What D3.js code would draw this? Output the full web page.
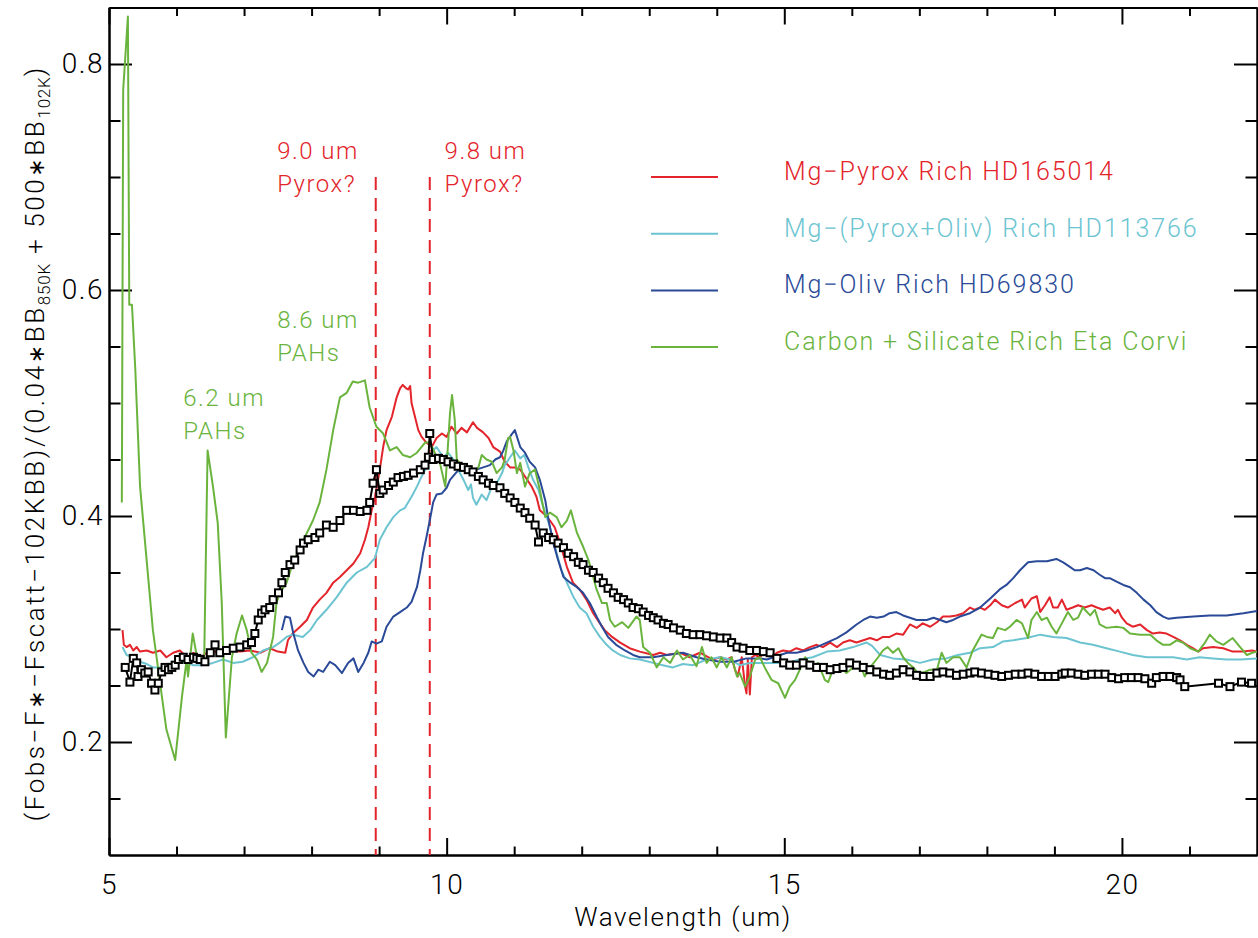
<!DOCTYPE html>
<html lang="en">
<head>
<meta charset="UTF-8">
<title>Silicate spectra</title>
<style>
  body { margin: 0; background: #fff; }
  svg text { font-family: Roboto, "Liberation Sans", sans-serif; font-weight: 300; }
  .ast { font-family: "DejaVu Sans", sans-serif; font-weight: 400; }
</style>
</head>
<body>
<svg id="chart" width="1258" height="938"></svg>
<script src="https://d3js.org/d3.v7.min.js"></script>
<script>
// spectra: [wavelength (um), normalised flux]
const pyroxRich = [[5.20,0.299],[5.22,0.286],[5.26,0.284],[5.31,0.286],[5.36,0.281],[5.41,0.284],[5.46,0.280],[5.56,0.281],[5.65,0.279],[5.76,0.281],[5.85,0.275],[5.95,0.279],[6.05,0.281],[6.15,0.275],[6.25,0.279],[6.35,0.275],[6.50,0.281],[6.64,0.279],[6.79,0.281],[6.94,0.280],[7.09,0.281],[7.24,0.279],[7.38,0.283],[7.50,0.280],[7.61,0.279],[7.65,0.290],[7.72,0.296],[7.83,0.302],[7.93,0.308],[8.02,0.319],[8.12,0.326],[8.22,0.332],[8.32,0.341],[8.42,0.346],[8.52,0.352],[8.62,0.358],[8.72,0.367],[8.79,0.379],[8.84,0.390],[8.89,0.405],[8.94,0.417],[9.01,0.441],[9.06,0.461],[9.11,0.476],[9.19,0.488],[9.26,0.505],[9.31,0.513],[9.35,0.516],[9.40,0.513],[9.43,0.512],[9.46,0.515],[9.48,0.500],[9.53,0.488],[9.58,0.476],[9.63,0.470],[9.70,0.465],[9.78,0.461],[9.85,0.469],[9.93,0.473],[10.00,0.470],[10.07,0.479],[10.15,0.473],[10.22,0.478],[10.30,0.474],[10.39,0.483],[10.45,0.478],[10.54,0.474],[10.62,0.469],[10.69,0.461],[10.79,0.457],[10.86,0.448],[10.94,0.443],[11.01,0.443],[11.09,0.441],[11.16,0.435],[11.26,0.426],[11.33,0.417],[11.38,0.405],[11.46,0.401],[11.53,0.396],[11.60,0.390],[11.68,0.376],[11.78,0.355],[11.87,0.341],[11.97,0.335],[12.07,0.326],[12.17,0.314],[12.27,0.305],[12.34,0.299],[12.45,0.293],[12.57,0.288],[12.71,0.283],[12.86,0.280],[13.06,0.277],[13.16,0.279],[13.26,0.277],[13.46,0.279],[13.60,0.275],[13.75,0.279],[13.94,0.273],[14.05,0.275],[14.15,0.273],[14.22,0.275],[14.27,0.264],[14.31,0.258],[14.37,0.275],[14.42,0.249],[14.44,0.243],[14.46,0.273],[14.49,0.242],[14.52,0.275],[14.57,0.277],[14.64,0.275],[14.71,0.280],[14.81,0.275],[14.89,0.279],[14.98,0.281],[15.08,0.280],[15.18,0.283],[15.28,0.281],[15.38,0.284],[15.48,0.286],[15.57,0.284],[15.68,0.288],[15.78,0.284],[15.87,0.288],[15.97,0.290],[16.07,0.288],[16.17,0.290],[16.27,0.292],[16.37,0.290],[16.46,0.293],[16.56,0.293],[16.66,0.296],[16.76,0.295],[16.86,0.304],[16.96,0.301],[17.05,0.305],[17.16,0.302],[17.26,0.306],[17.35,0.311],[17.45,0.311],[17.55,0.312],[17.65,0.314],[17.75,0.319],[17.82,0.317],[17.90,0.319],[17.97,0.317],[18.05,0.321],[18.12,0.326],[18.22,0.321],[18.31,0.319],[18.42,0.323],[18.52,0.326],[18.56,0.319],[18.66,0.327],[18.74,0.329],[18.79,0.315],[18.86,0.321],[18.93,0.328],[18.98,0.319],[19.05,0.319],[19.11,0.326],[19.18,0.317],[19.27,0.319],[19.35,0.321],[19.45,0.319],[19.55,0.321],[19.63,0.319],[19.72,0.317],[19.82,0.319],[19.90,0.314],[19.94,0.317],[20.00,0.310],[20.07,0.305],[20.16,0.302],[20.27,0.304],[20.37,0.299],[20.46,0.296],[20.56,0.297],[20.66,0.296],[20.76,0.293],[20.86,0.290],[20.96,0.286],[21.05,0.283],[21.13,0.280],[21.20,0.283],[21.35,0.284],[21.50,0.283],[21.64,0.280],[21.79,0.280],[21.93,0.281],[22.00,0.280]];

const pyroxOlivRich = [[5.20,0.284],[5.26,0.277],[5.36,0.275],[5.46,0.271],[5.56,0.269],[5.65,0.266],[5.76,0.266],[5.85,0.268],[5.95,0.270],[6.05,0.271],[6.15,0.270],[6.24,0.268],[6.39,0.268],[6.54,0.270],[6.69,0.273],[6.84,0.270],[6.98,0.271],[7.13,0.275],[7.28,0.281],[7.43,0.284],[7.53,0.288],[7.63,0.293],[7.72,0.295],[7.87,0.293],[7.98,0.299],[8.08,0.308],[8.22,0.317],[8.37,0.328],[8.52,0.341],[8.67,0.350],[8.82,0.355],[8.94,0.363],[9.01,0.379],[9.11,0.390],[9.21,0.399],[9.31,0.405],[9.38,0.407],[9.48,0.417],[9.56,0.426],[9.63,0.435],[9.70,0.443],[9.78,0.457],[9.85,0.461],[9.95,0.452],[10.02,0.456],[10.10,0.450],[10.17,0.441],[10.25,0.432],[10.32,0.423],[10.36,0.428],[10.39,0.416],[10.44,0.410],[10.52,0.419],[10.59,0.414],[10.67,0.426],[10.74,0.429],[10.82,0.438],[10.86,0.445],[10.94,0.452],[11.01,0.458],[11.09,0.451],[11.15,0.454],[11.21,0.443],[11.28,0.432],[11.36,0.423],[11.41,0.412],[11.46,0.403],[11.51,0.394],[11.58,0.379],[11.63,0.367],[11.70,0.352],[11.78,0.341],[11.88,0.328],[11.97,0.319],[12.07,0.314],[12.17,0.302],[12.27,0.293],[12.37,0.286],[12.46,0.281],[12.57,0.277],[12.71,0.274],[12.86,0.273],[13.06,0.270],[13.20,0.268],[13.35,0.266],[13.50,0.269],[13.65,0.268],[13.85,0.273],[14.05,0.275],[14.20,0.273],[14.34,0.268],[14.49,0.270],[14.64,0.270],[14.83,0.270],[15.04,0.270],[15.23,0.273],[15.42,0.275],[15.63,0.280],[15.82,0.281],[16.02,0.284],[16.22,0.288],[16.30,0.285],[16.42,0.277],[16.61,0.274],[16.81,0.273],[17.01,0.270],[17.20,0.273],[17.40,0.274],[17.57,0.277],[17.75,0.279],[17.90,0.283],[18.09,0.284],[18.24,0.289],[18.39,0.290],[18.59,0.292],[18.79,0.295],[18.98,0.293],[19.18,0.292],[19.38,0.288],[19.57,0.286],[19.77,0.283],[19.97,0.280],[20.16,0.277],[20.37,0.275],[20.56,0.275],[20.76,0.275],[20.96,0.273],[21.15,0.275],[21.35,0.274],[21.55,0.273],[21.75,0.273],[22.00,0.274]];

const olivRich = [[7.56,0.299],[7.61,0.311],[7.68,0.310],[7.73,0.296],[7.80,0.281],[7.88,0.270],[7.95,0.262],[8.03,0.258],[8.10,0.264],[8.17,0.262],[8.27,0.271],[8.35,0.268],[8.45,0.261],[8.54,0.270],[8.62,0.274],[8.69,0.262],[8.77,0.270],[8.84,0.279],[8.89,0.289],[8.96,0.287],[9.04,0.289],[9.11,0.302],[9.21,0.311],[9.31,0.315],[9.41,0.319],[9.48,0.324],[9.56,0.337],[9.61,0.352],[9.65,0.367],[9.70,0.381],[9.75,0.396],[9.80,0.412],[9.85,0.419],[9.93,0.420],[10.00,0.425],[10.05,0.432],[10.15,0.439],[10.25,0.445],[10.35,0.441],[10.44,0.441],[10.54,0.443],[10.64,0.445],[10.72,0.450],[10.79,0.452],[10.84,0.458],[10.89,0.466],[10.96,0.472],[11.01,0.476],[11.09,0.461],[11.16,0.456],[11.23,0.448],[11.31,0.443],[11.38,0.432],[11.46,0.414],[11.51,0.396],[11.58,0.376],[11.65,0.361],[11.73,0.346],[11.83,0.341],[11.93,0.337],[12.02,0.332],[12.12,0.323],[12.22,0.311],[12.30,0.302],[12.39,0.293],[12.51,0.286],[12.64,0.281],[12.76,0.277],[12.86,0.275],[13.06,0.275],[13.26,0.277],[13.50,0.279],[13.70,0.275],[13.85,0.273],[14.05,0.271],[14.25,0.271],[14.44,0.274],[14.64,0.274],[14.74,0.273],[14.94,0.277],[15.04,0.279],[15.18,0.279],[15.33,0.281],[15.48,0.284],[15.63,0.288],[15.78,0.292],[15.92,0.297],[16.07,0.304],[16.17,0.308],[16.27,0.311],[16.37,0.310],[16.47,0.311],[16.56,0.314],[16.66,0.315],[16.76,0.312],[16.86,0.310],[16.96,0.308],[17.11,0.308],[17.21,0.310],[17.31,0.308],[17.40,0.306],[17.50,0.308],[17.60,0.311],[17.75,0.314],[17.90,0.319],[18.05,0.327],[18.19,0.335],[18.29,0.339],[18.39,0.345],[18.49,0.352],[18.61,0.359],[18.74,0.360],[18.89,0.360],[19.03,0.362],[19.13,0.359],[19.23,0.355],[19.30,0.352],[19.38,0.352],[19.48,0.354],[19.58,0.352],[19.67,0.348],[19.75,0.345],[19.82,0.345],[19.92,0.342],[20.02,0.339],[20.12,0.337],[20.22,0.332],[20.32,0.326],[20.42,0.321],[20.51,0.315],[20.61,0.311],[20.69,0.309],[20.81,0.310],[21.06,0.311],[21.30,0.312],[21.55,0.312],[21.80,0.314],[22.00,0.316]];

const etaCorvi = [[5.19,0.412],[5.21,0.777],[5.28,0.842],[5.30,0.587],[5.34,0.587],[5.39,0.529],[5.46,0.426],[5.65,0.299],[5.85,0.211],[5.98,0.184],[6.08,0.240],[6.15,0.273],[6.17,0.258],[6.24,0.296],[6.30,0.276],[6.35,0.270],[6.41,0.275],[6.46,0.458],[6.54,0.426],[6.61,0.394],[6.67,0.323],[6.73,0.204],[6.82,0.275],[6.89,0.296],[6.97,0.312],[7.04,0.299],[7.11,0.279],[7.19,0.273],[7.26,0.262],[7.34,0.270],[7.43,0.293],[7.48,0.323],[7.53,0.332],[7.63,0.341],[7.72,0.358],[7.83,0.373],[7.93,0.385],[8.02,0.396],[8.12,0.412],[8.22,0.441],[8.32,0.476],[8.42,0.505],[8.52,0.509],[8.61,0.519],[8.69,0.518],[8.79,0.520],[8.86,0.496],[8.96,0.479],[9.06,0.473],[9.16,0.458],[9.26,0.461],[9.35,0.454],[9.46,0.452],[9.56,0.456],[9.68,0.465],[9.75,0.465],[9.90,0.447],[9.98,0.426],[10.05,0.491],[10.08,0.507],[10.12,0.485],[10.15,0.450],[10.22,0.445],[10.30,0.441],[10.39,0.438],[10.47,0.443],[10.52,0.454],[10.59,0.450],[10.67,0.448],[10.74,0.438],[10.82,0.443],[10.86,0.450],[10.91,0.469],[10.94,0.470],[10.99,0.458],[11.04,0.438],[11.09,0.447],[11.16,0.426],[11.23,0.438],[11.31,0.441],[11.38,0.423],[11.46,0.399],[11.53,0.403],[11.63,0.399],[11.70,0.390],[11.78,0.396],[11.84,0.405],[11.88,0.396],[11.93,0.385],[12.02,0.373],[12.10,0.361],[12.17,0.346],[12.22,0.335],[12.30,0.323],[12.37,0.323],[12.42,0.308],[12.49,0.302],[12.60,0.306],[12.69,0.301],[12.81,0.311],[12.86,0.308],[12.91,0.284],[13.01,0.279],[13.11,0.266],[13.21,0.275],[13.31,0.270],[13.41,0.281],[13.50,0.273],[13.60,0.277],[13.70,0.267],[13.78,0.284],[13.85,0.270],[13.92,0.275],[14.00,0.266],[14.07,0.275],[14.15,0.266],[14.22,0.275],[14.30,0.258],[14.34,0.261],[14.42,0.249],[14.49,0.258],[14.57,0.273],[14.64,0.275],[14.71,0.266],[14.81,0.255],[14.91,0.252],[15.01,0.239],[15.08,0.249],[15.16,0.255],[15.23,0.264],[15.31,0.275],[15.41,0.266],[15.50,0.270],[15.60,0.255],[15.65,0.253],[15.72,0.264],[15.82,0.268],[15.92,0.261],[16.02,0.266],[16.12,0.270],[16.19,0.258],[16.27,0.266],[16.39,0.275],[16.46,0.281],[16.53,0.284],[16.61,0.279],[16.69,0.283],[16.76,0.275],[16.83,0.270],[16.91,0.266],[16.98,0.261],[17.08,0.262],[17.16,0.264],[17.26,0.264],[17.33,0.279],[17.40,0.270],[17.50,0.275],[17.60,0.275],[17.70,0.266],[17.79,0.281],[17.92,0.295],[18.00,0.293],[18.09,0.292],[18.16,0.301],[18.27,0.299],[18.34,0.302],[18.44,0.308],[18.52,0.305],[18.61,0.292],[18.66,0.308],[18.74,0.315],[18.81,0.308],[18.89,0.310],[18.96,0.302],[19.03,0.296],[19.11,0.305],[19.20,0.315],[19.28,0.308],[19.35,0.310],[19.42,0.319],[19.53,0.312],[19.60,0.317],[19.67,0.304],[19.77,0.301],[19.92,0.302],[20.02,0.301],[20.12,0.296],[20.27,0.295],[20.42,0.295],[20.51,0.290],[20.61,0.286],[20.71,0.286],[20.81,0.290],[20.90,0.288],[21.01,0.283],[21.13,0.280],[21.23,0.288],[21.30,0.295],[21.40,0.289],[21.50,0.286],[21.64,0.292],[21.75,0.284],[21.85,0.277],[21.93,0.279],[22.00,0.280]];

// observed excess spectrum (black, square symbols)
const observed = [[5.24,0.266],[5.31,0.253],[5.36,0.274],[5.41,0.270],[5.43,0.258],[5.48,0.264],[5.53,0.261],[5.58,0.262],[5.63,0.252],[5.68,0.246],[5.73,0.252],[5.78,0.262],[5.83,0.266],[5.88,0.264],[5.93,0.266],[5.98,0.268],[6.03,0.273],[6.10,0.275],[6.17,0.273],[6.25,0.275],[6.30,0.274],[6.35,0.273],[6.42,0.271],[6.50,0.279],[6.57,0.286],[6.64,0.279],[6.74,0.281],[6.84,0.283],[6.94,0.284],[7.04,0.286],[7.11,0.288],[7.16,0.296],[7.21,0.308],[7.26,0.314],[7.31,0.317],[7.38,0.319],[7.43,0.326],[7.51,0.332],[7.56,0.341],[7.61,0.350],[7.68,0.357],[7.75,0.361],[7.83,0.370],[7.88,0.376],[7.95,0.379],[8.05,0.381],[8.12,0.385],[8.22,0.392],[8.32,0.390],[8.42,0.396],[8.52,0.405],[8.62,0.405],[8.72,0.404],[8.82,0.405],[8.86,0.412],[8.91,0.429],[8.96,0.441],[9.01,0.420],[9.06,0.423],[9.14,0.427],[9.21,0.430],[9.28,0.434],[9.36,0.435],[9.43,0.436],[9.51,0.438],[9.61,0.441],[9.68,0.445],[9.73,0.452],[9.75,0.473],[9.80,0.450],[9.88,0.451],[9.95,0.450],[10.02,0.448],[10.10,0.446],[10.17,0.444],[10.25,0.443],[10.32,0.441],[10.39,0.439],[10.47,0.435],[10.54,0.432],[10.62,0.429],[10.69,0.427],[10.79,0.425],[10.86,0.420],[10.94,0.416],[11.01,0.412],[11.09,0.407],[11.16,0.403],[11.23,0.398],[11.31,0.392],[11.36,0.377],[11.43,0.385],[11.51,0.381],[11.58,0.379],[11.65,0.376],[11.73,0.372],[11.80,0.367],[11.88,0.364],[11.95,0.359],[12.02,0.357],[12.10,0.352],[12.17,0.350],[12.25,0.345],[12.32,0.341],[12.39,0.336],[12.47,0.332],[12.54,0.328],[12.62,0.326],[12.69,0.323],[12.76,0.319],[12.84,0.318],[12.91,0.315],[12.99,0.312],[13.06,0.310],[13.13,0.308],[13.21,0.305],[13.28,0.304],[13.36,0.301],[13.46,0.299],[13.55,0.296],[13.65,0.295],[13.75,0.295],[13.85,0.294],[13.95,0.293],[14.05,0.292],[14.15,0.292],[14.22,0.288],[14.30,0.284],[14.39,0.283],[14.49,0.281],[14.59,0.281],[14.69,0.280],[14.79,0.279],[14.89,0.274],[14.99,0.270],[15.08,0.268],[15.18,0.268],[15.28,0.270],[15.38,0.268],[15.48,0.266],[15.58,0.266],[15.68,0.264],[15.78,0.265],[15.87,0.266],[15.97,0.270],[16.07,0.268],[16.17,0.266],[16.27,0.264],[16.37,0.262],[16.47,0.260],[16.56,0.259],[16.66,0.261],[16.76,0.264],[16.86,0.262],[16.96,0.259],[17.06,0.258],[17.16,0.258],[17.26,0.261],[17.35,0.262],[17.45,0.261],[17.55,0.259],[17.65,0.260],[17.75,0.261],[17.82,0.262],[17.92,0.261],[18.02,0.260],[18.12,0.259],[18.22,0.258],[18.32,0.259],[18.42,0.260],[18.52,0.260],[18.61,0.261],[18.71,0.260],[18.81,0.258],[18.91,0.258],[19.01,0.258],[19.11,0.260],[19.16,0.261],[19.25,0.261],[19.35,0.260],[19.45,0.259],[19.55,0.260],[19.65,0.260],[19.75,0.260],[19.85,0.257],[19.95,0.256],[20.04,0.257],[20.14,0.257],[20.24,0.257],[20.34,0.256],[20.44,0.252],[20.51,0.257],[20.61,0.258],[20.71,0.258],[20.81,0.257],[20.86,0.255],[20.93,0.249],[21.43,0.252],[21.60,0.249],[21.77,0.253],[21.92,0.252]];

const seriesNames = ["Mg\u2212Pyrox Rich HD165014", "Mg\u2212(Pyrox+Oliv) Rich HD113766", "Mg\u2212Oliv Rich HD69830", "Carbon + Silicate Rich Eta Corvi"];
const seriesColors = ["#e3242b", "#6cc4d1", "#2a4a98", "#6ab43e"];
const seriesData = [pyroxRich, pyroxOlivRich, olivRich, etaCorvi];

const xMajor = [5, 10, 15, 20];
const yMajor = [0.2, 0.4, 0.6, 0.8];
const featureLines = [8.95, 9.75];
const notes = [
  {lines: ["9.0 um", "Pyrox?"], x: 7.49, y: 0.716, color: "#e3242b"},
  {lines: ["9.8 um", "Pyrox?"], x: 9.97, y: 0.716, color: "#e3242b"},
  {lines: ["8.6 um", "PAHs"], x: 7.49, y: 0.566, color: "#6ab43e"},
  {lines: ["6.2 um", "PAHs"], x: 6.10, y: 0.497, color: "#6ab43e"}
];

const svg = d3.select("#chart"),
    width = +svg.attr("width"),
    height = +svg.attr("height");
const margin = {top: 7.5, right: 1, bottom: 83, left: 109};

const x = d3.scaleLinear().domain([5, 22]).range([margin.left, width - margin.right]);
const y = d3.scaleLinear().domain([0.1, 0.85]).range([height - margin.bottom, margin.top]);

const xMinor = d3.range(6, 22, 1).filter(d => !xMajor.includes(d));
const yMinor = d3.range(0.15, 0.85, 0.05).map(d => +d.toFixed(2)).filter(d => !yMajor.includes(d));

function styleAxis(g) {
  g.selectAll("path, line").attr("stroke", "#000").attr("stroke-width", 2);
  g.selectAll("text").attr("fill", "#000")
    .style("font-size", "28px").style("letter-spacing", "1.5px");
}

// bottom / top
svg.append("g").attr("transform", `translate(0,${y(0.1)})`)
  .call(d3.axisBottom(x).tickValues(xMajor).tickSize(-17).tickSizeOuter(0).tickPadding(19).tickFormat(d3.format("d")))
  .call(styleAxis);
svg.append("g").attr("transform", `translate(0,${y(0.1)})`)
  .call(d3.axisBottom(x).tickValues(xMinor).tickSize(-8.5).tickSizeOuter(0).tickFormat(""))
  .call(styleAxis);
svg.append("g").attr("transform", `translate(0,${y(0.85)})`)
  .call(d3.axisTop(x).tickValues(xMajor).tickSize(-17).tickSizeOuter(0).tickFormat(""))
  .call(styleAxis);
svg.append("g").attr("transform", `translate(0,${y(0.85)})`)
  .call(d3.axisTop(x).tickValues(xMinor).tickSize(-8.5).tickSizeOuter(0).tickFormat(""))
  .call(styleAxis);
// left / right
svg.append("g").attr("transform", `translate(${x(5)},0)`)
  .call(d3.axisLeft(y).tickValues(yMajor).tickSize(-23).tickSizeOuter(0).tickPadding(5).tickFormat(d3.format(".1f")))
  .call(styleAxis);
svg.append("g").attr("transform", `translate(${x(5)},0)`)
  .call(d3.axisLeft(y).tickValues(yMinor).tickSize(-11.5).tickSizeOuter(0).tickFormat(""))
  .call(styleAxis);
svg.append("g").attr("transform", `translate(${x(22)},0)`)
  .call(d3.axisRight(y).tickValues(yMajor).tickSize(-23).tickSizeOuter(0).tickFormat(""))
  .call(styleAxis);
svg.append("g").attr("transform", `translate(${x(22)},0)`)
  .call(d3.axisRight(y).tickValues(yMinor).tickSize(-11.5).tickSizeOuter(0).tickFormat(""))
  .call(styleAxis);

// axis titles
svg.append("text")
  .attr("x", (x(5) + x(22)) / 2).attr("y", 926)
  .attr("text-anchor", "middle")
  .style("font-size", "26px").style("letter-spacing", "1.6px")
  .text("Wavelength (um)");

const yTitle = svg.append("text")
  .attr("transform", `translate(44,${(y(0.1) + y(0.85)) / 2 + 12}) rotate(-90)`)
  .attr("text-anchor", "middle")
  .style("font-size", "26px").style("letter-spacing", "2.6px");
const yParts = [
  {t: "(Fobs\u2212F"}, {t: "\u2217", ast: true}, {t: "\u2212Fscatt\u2212102KBB)/(0.04"},
  {t: "\u2217", ast: true}, {t: "BB"}, {t: "850K", sub: true}, {t: " + 500"},
  {t: "\u2217", ast: true}, {t: "BB"}, {t: "102K", sub: true}, {t: ")"}
];
let prevSub = false;
yParts.forEach(p => {
  const ts = yTitle.append("tspan").text(p.t);
  if (p.ast) ts.attr("class", "ast").style("font-size", "22px");
  if (p.sub) ts.style("font-size", "17px").style("letter-spacing", "0.8px");
  if (p.sub && !prevSub) ts.attr("dy", 6);
  if (!p.sub && prevSub) ts.attr("dy", -6);
  prevSub = !!p.sub;
});

// dashed feature markers
svg.append("g").selectAll("line")
  .data(featureLines)
  .join("line")
    .attr("x1", d => x(d)).attr("x2", d => x(d))
    .attr("y1", y(0.7)).attr("y2", y(0.1))
    .attr("stroke", "#e3242b").attr("stroke-width", 2)
    .attr("stroke-dasharray", "13,8");

// annotations
const noteG = svg.append("g").selectAll("text")
  .data(notes)
  .join("text")
    .attr("x", d => x(d.x)).attr("y", d => y(d.y))
    .attr("fill", d => d.color)
    .style("font-size", "24px").style("letter-spacing", "1.5px");
noteG.selectAll("tspan")
  .data(d => d.lines.map((t, i) => ({t, i, x: d.x})))
  .join("tspan")
    .attr("x", d => x(d.x)).attr("dy", d => d.i === 0 ? 0 : 33)
    .text(d => d.t);

// model spectra
const line = d3.line().x(d => x(d[0])).y(d => y(d[1]));
svg.append("g").selectAll("path")
  .data(seriesData)
  .join("path")
    .attr("fill", "none")
    .attr("stroke", (d, i) => seriesColors[i])
    .attr("stroke-width", 2)
    .attr("stroke-linejoin", "round")
    .attr("d", line);

// observed spectrum with square symbols
svg.append("path")
  .datum(observed)
  .attr("fill", "none").attr("stroke", "#000").attr("stroke-width", 2)
  .attr("d", line);
svg.append("g").selectAll("rect")
  .data(observed)
  .join("rect")
    .attr("x", d => x(d[0]) - 3.5).attr("y", d => y(d[1]) - 3.5)
    .attr("width", 7).attr("height", 7)
    .attr("fill", "#fff").attr("stroke", "#000").attr("stroke-width", 2);

// legend
const legend = svg.append("g").selectAll("g")
  .data(seriesNames)
  .join("g")
    .attr("transform", (d, i) => `translate(651,${177 + i * 56.7})`);
legend.append("line")
  .attr("x1", 0).attr("x2", 67)
  .attr("stroke", (d, i) => seriesColors[i]).attr("stroke-width", 2);
legend.append("text")
  .attr("x", 133).attr("y", 3)
  .attr("fill", (d, i) => seriesColors[i])
  .style("font-size", "25px").style("letter-spacing", "1.9px")
  .text(d => d);
</script>
</body>
</html>
